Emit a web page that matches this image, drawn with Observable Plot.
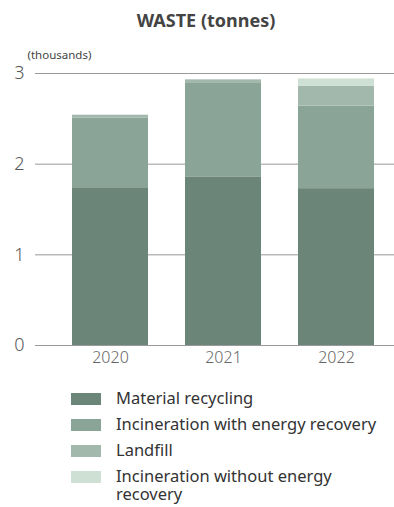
<!DOCTYPE html>
<html>
<head>
<meta charset="utf-8">
<script src="https://cdn.jsdelivr.net/npm/d3@7"></script>
<script src="https://cdn.jsdelivr.net/npm/@observablehq/plot@0.6"></script>
<style>
  html, body { margin: 0; padding: 0; background: #fff; }
  body { width: 394px; height: 507px; overflow: hidden; font-family: "Noto Sans", sans-serif; }
  #title { height: 40px; line-height: 40px; text-align: center; font-weight: bold; font-size: 18px; color: #444; padding-left: 18px; box-sizing: border-box; }
  #legend { margin-top: 14px; padding-left: 71px; }
  .row { display: flex; align-items: flex-start; margin-bottom: 8px; }
  .sw { width: 30px; height: 12px; margin-top: 3.5px; margin-right: 15px; flex: none; }
  .lab { font-size: 16.5px; line-height: 18px; color: #333; width: 270px; }
</style>
</head>
<body>
<div id="title">WASTE (tonnes)</div>
<div id="chart"></div>
<div id="legend"></div>
<script>
const years = ["2020", "2021", "2022"];
const categories = [
  "Material recycling",
  "Incineration with energy recovery",
  "Landfill",
  "Incineration without energy recovery"
];
const colors = ["#6b8579", "#8aa598", "#a3b8ac", "#cde0d3"];
const materialRecycling = [1.74, 1.86, 1.73];
const incinerationWith = [0.77, 1.03, 0.91];
const landfill = [0.03, 0.04, 0.22];
const incinerationWithout = [0, 0, 0.08];
const yTicks = [0, 1, 2, 3];
const unitLabel = "(thousands)";

const series = [materialRecycling, incinerationWith, landfill, incinerationWithout];
const data = [];
categories.forEach((c, i) => years.forEach((y, j) => data.push({year: y, category: c, value: series[i][j]})));

const chart = Plot.plot({
  width: 394,
  height: 335,
  marginTop: 33,
  marginBottom: 30,
  marginLeft: 35,
  marginRight: 0,
  style: {fontFamily: "Noto Sans, sans-serif", background: "transparent"},
  x: {domain: years, range: [71, 374], paddingInner: 0.33, paddingOuter: 0, label: null},
  y: {domain: [0, 3], label: null},
  color: {domain: categories, range: colors},
  marks: [
    Plot.ruleY(yTicks, {stroke: "#999", strokeWidth: 1}),
    Plot.barY(data, {x: "year", y: "value", fill: "category", order: categories}),
    Plot.axisY(yTicks, {tickSize: 0, tickPadding: 11, fontSize: 18, fontWeight: 300, fill: "#555", label: null, tickFormat: d3.format("d")}),
    Plot.axisX({tickSize: 0, tickPadding: 6, fontSize: 16, fontWeight: 300, fill: "#666", label: null}),
    Plot.text([unitLabel], {frameAnchor: "top-left", text: d => d, dx: -8, dy: -23, fontSize: 11.5, fill: "#444", textAnchor: "start"})
  ]
});
document.getElementById("chart").appendChild(chart);

const legend = document.getElementById("legend");
categories.forEach((c, i) => {
  const row = document.createElement("div");
  row.className = "row";
  const sw = document.createElement("div");
  sw.className = "sw";
  sw.style.background = colors[i];
  const lab = document.createElement("div");
  lab.className = "lab";
  lab.textContent = c;
  row.appendChild(sw);
  row.appendChild(lab);
  legend.appendChild(row);
});
</script>
</body>
</html>
